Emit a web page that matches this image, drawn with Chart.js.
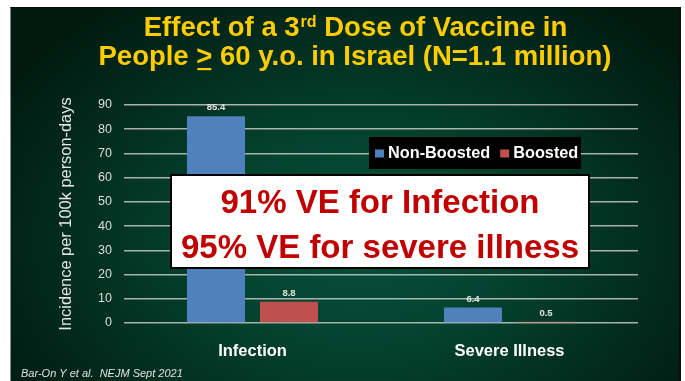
<!DOCTYPE html>
<html>
<head>
<meta charset="utf-8">
<script src="https://cdn.jsdelivr.net/npm/chart.js@4.4.1/dist/chart.umd.min.js"></script>
<style>
  html, body { margin: 0; padding: 0; background: #fff; }
  #wrap { position: relative; width: 685px; height: 381px; overflow: hidden; }
  #slide {
    position: absolute; left: 10px; top: 7px; width: 668px; height: 374px;
    border-left: 1px solid #8a8a8a; border-top: 1px solid #0a0a0a; border-right: 2px solid #0d0d0d;
    background: radial-gradient(ellipse 62% 78% at 52% 62%, #05503a 0%, #04432f 35%, #022e1f 68%, #011a10 100%);
  }
  canvas { position: absolute; left: 0; top: 0; }
</style>
</head>
<body>
<div id="wrap">
  <div id="slide"></div>
  <canvas id="c" width="685" height="381"></canvas>
</div>
<script>
// Incidence per 100k person-days, adults 60+
const categories = ['Infection', 'Severe Illness'];
const seriesNames = ['Non-Boosted', 'Boosted'];
const nonBoosted = [85.4, 6.4];
const boosted = [8.8, 0.5];
const yTicks = [0, 10, 20, 30, 40, 50, 60, 70, 80, 90];

const yTitle = 'Incidence per 100k person-days';
const titleLine1 = ['Effect of a 3', 'rd', ' Dose of Vaccine in'];
const titleLine2 = ['People ', '>', ' 60 y.o. in Israel (N=1.1 million)'];
const calloutLines = ['91% VE for Infection', '95% VE for severe illness'];
const footnote = 'Bar-On Y et al.  NEJM Sept 2021';

const SANS = '"Liberation Sans", Arial, Helvetica, sans-serif';
const BLUE = '#4f81bd';
const RED = '#c0504d';

// value labels above each bar
const valueLabels = {
  id: 'valueLabels',
  afterDatasetsDraw(chart) {
    const ctx = chart.ctx;
    ctx.save();
    ctx.font = 'bold 9.5px ' + SANS;
    ctx.textAlign = 'center';
    ctx.textBaseline = 'middle';
    chart.data.datasets.forEach((ds, di) => {
      chart.getDatasetMeta(di).data.forEach((bar, i) => {
        ctx.fillStyle = '#e4e4e4';
        ctx.fillText(ds.data[i].toFixed(1), bar.x, bar.y - 8.5);
      });
    });
    ctx.restore();
  }
};

// slide decorations: legend box, callout, title, source line
const slideText = {
  id: 'slideText',
  afterDraw(chart) {
    const ctx = chart.ctx;
    ctx.save();

    // legend on black box
    ctx.fillStyle = '#000';
    ctx.fillRect(369, 137, 212, 32);
    ctx.font = 'bold 16.3px ' + SANS;
    ctx.textBaseline = 'alphabetic';
    ctx.textAlign = 'left';
    let lx = 375;
    chart.data.datasets.forEach(ds => {
      ctx.fillStyle = ds.backgroundColor;
      ctx.fillRect(lx, 149.5, 9, 8);
      lx += 13;
      ctx.fillStyle = '#fff';
      ctx.fillText(ds.label, lx, 158);
      lx += ctx.measureText(ds.label).width + 10;
    });

    // callout box
    ctx.fillStyle = '#fff';
    ctx.fillRect(171, 175, 418, 93);
    ctx.strokeStyle = '#000';
    ctx.lineWidth = 2;
    ctx.strokeRect(171, 175, 418, 93);
    ctx.fillStyle = '#c00000';
    ctx.font = 'bold 33px ' + SANS;
    ctx.textAlign = 'center';
    ctx.fillText(calloutLines[0], 380, 212.5);
    ctx.fillText(calloutLines[1], 380, 258);

    // title
    ctx.fillStyle = '#ffcc00';
    ctx.textAlign = 'left';
    const big = 'bold 27.5px ' + SANS;
    const small = 'bold 16px ' + SANS;
    ctx.font = big;
    const w1a = ctx.measureText(titleLine1[0]).width;
    const w1c = ctx.measureText(titleLine1[2]).width;
    ctx.font = small;
    const w1b = ctx.measureText(titleLine1[1]).width;
    let x = 355 - (w1a + w1b + w1c) / 2;
    ctx.font = big;
    ctx.fillText(titleLine1[0], x, 35.5);
    x += w1a;
    ctx.font = small;
    ctx.fillText(titleLine1[1], x + 1, 27);
    x += w1b + 1;
    ctx.font = big;
    ctx.fillText(titleLine1[2], x, 35.5);

    const w2 = titleLine2.map(s => ctx.measureText(s).width);
    x = 355 - (w2[0] + w2[1] + w2[2]) / 2;
    ctx.fillText(titleLine2[0], x, 65);
    x += w2[0];
    ctx.fillText(titleLine2[1], x, 65);
    ctx.fillRect(x + 1, 68, w2[1] - 2, 2.2);
    x += w2[1];
    ctx.fillText(titleLine2[2], x, 65);

    // source
    ctx.fillStyle = '#e0e0e0';
    ctx.font = 'italic 11px ' + SANS;
    ctx.fillText(footnote, 21, 376.5);

    ctx.restore();
  }
};

new Chart(document.getElementById('c'), {
  type: 'bar',
  data: {
    labels: categories,
    datasets: [
      { label: seriesNames[0], data: nonBoosted, backgroundColor: BLUE },
      { label: seriesNames[1], data: boosted, backgroundColor: RED }
    ]
  },
  options: {
    responsive: false,
    animation: false,
    devicePixelRatio: 1,
    events: [],
    layout: { padding: { left: 50, top: 105, right: 47, bottom: 0 } },
    datasets: { bar: { categoryPercentage: 0.568, barPercentage: 0.795 } },
    plugins: { legend: { display: false }, tooltip: { enabled: false } },
    scales: {
      x: {
        afterFit(s) { s.height = 58; },
        grid: { display: false },
        border: { display: false },
        ticks: { color: '#ffffff', padding: 11, font: { family: SANS, size: 16.5, weight: 'bold' } }
      },
      y: {
        min: 0, max: 90,
        afterFit(s) { s.width = 74; },
        afterBuildTicks(s) { s.ticks = yTicks.map(v => ({ value: v })); },
        grid: { color: 'rgba(200,200,200,0.85)', lineWidth: 1.5, drawTicks: false },
        border: { display: false },
        ticks: { color: '#dedede', padding: 12, font: { family: SANS, size: 12.5 } },
        title: {
          display: true, text: yTitle, color: '#e6e6e6',
          padding: { top: 7, bottom: 0 },
          font: { family: SANS, size: 16.4 }
        }
      }
    }
  },
  plugins: [valueLabels, slideText]
});
</script>
</body>
</html>
